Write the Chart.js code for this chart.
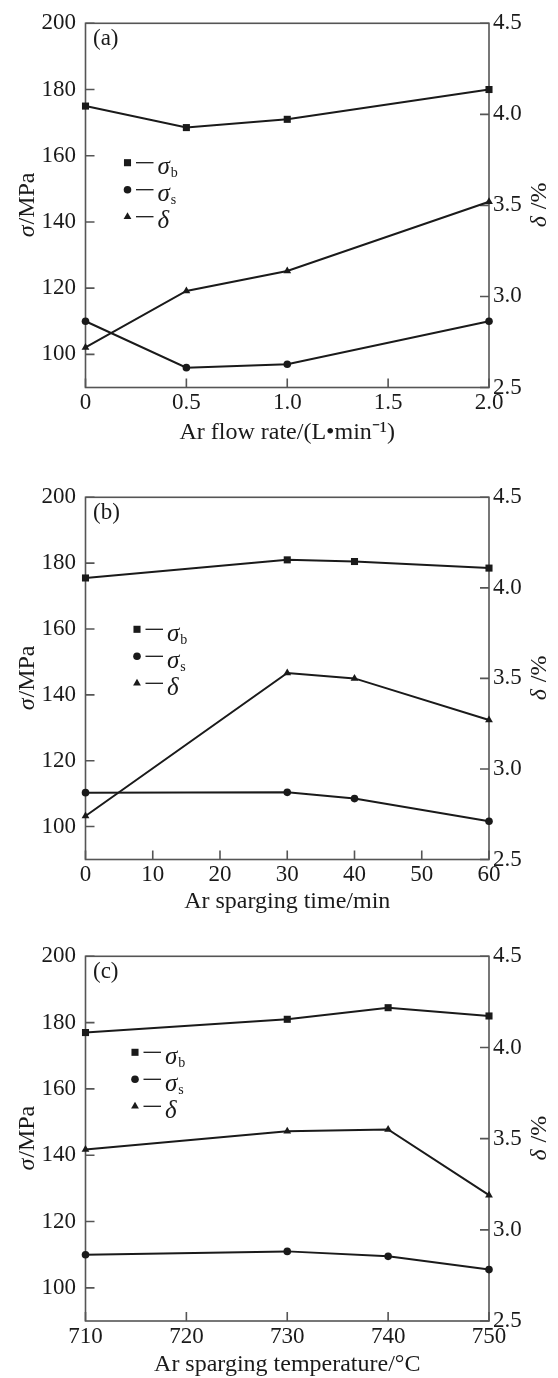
<!DOCTYPE html>
<html>
<head>
<meta charset="utf-8">
<script src="https://cdn.jsdelivr.net/npm/chart.js@4.4.1/dist/chart.umd.min.js"></script>
<style>
  html, body { margin: 0; padding: 0; background: #fff; }
  body { width: 558px; height: 1378px; position: relative; overflow: hidden; }
  .panel { position: absolute; left: 0; width: 558px; height: 460px; }
</style>
</head>
<body>
<div class="panel" style="top:0"><canvas id="chartA" width="558" height="460"></canvas></div>
<div class="panel" style="top:474px"><canvas id="chartB" width="558" height="460"></canvas></div>
<div class="panel" style="top:933px"><canvas id="chartC" width="558" height="460"></canvas></div>
<script>
const FONT = '"Liberation Serif", "Times New Roman", serif';
const INK = "#1a1a1a";
const FRAME = "#555";
const TICK = 9;

// shared y axes
const stressTicks = [100, 120, 140, 160, 180, 200];
const elongTicks = [2.5, 3.0, 3.5, 4.0, 4.5];

// (a) Ar flow rate
const flowRate = [0, 0.5, 1.0, 2.0];
const flowRateTicks = [0, 0.5, 1.0, 1.5, 2.0];
const flowRateLabels = ["0", "0.5", "1.0", "1.5", "2.0"];
const sigmaB_a = [175, 168.5, 171, 180];
const sigmaS_a = [110, 96, 97, 110];
const delta_a = [2.72, 3.03, 3.14, 3.52];

// (b) Ar sparging time
const spargeTime = [0, 30, 40, 60];
const spargeTimeTicks = [0, 10, 20, 30, 40, 50, 60];
const sigmaB_b = [175.5, 181, 180.5, 178.5];
const sigmaS_b = [110.3, 110.4, 108.5, 101.6];
const delta_b = [2.74, 3.53, 3.5, 3.27];

// (c) Ar sparging temperature
const spargeTemp = [710, 730, 740, 750];
const spargeTempTicks = [710, 720, 730, 740, 750];
const sigmaB_c = [177, 181, 184.5, 182];
const sigmaS_c = [110, 111, 109.5, 105.5];
const delta_c = [3.44, 3.54, 3.55, 3.19];

const legendItems = [
  { style: "rect", radius: 5, sym: "σ", sub: "b" },
  { style: "circle", radius: 3.8, sym: "σ", sub: "s" },
  { style: "triangle", radius: 4.5, sym: "δ", sub: "" },
];

Chart.defaults.font.family = FONT;
Chart.defaults.color = INK;

function italicPlus(ctx, italicPart, rest, size) {
  ctx.font = `italic ${size}px ${FONT}`;
  const w1 = ctx.measureText(italicPart).width;
  ctx.font = `${size}px ${FONT}`;
  const w2 = ctx.measureText(rest).width;
  let x = -(w1 + w2) / 2;
  ctx.textAlign = "left";
  ctx.textBaseline = "middle";
  ctx.font = `italic ${size}px ${FONT}`;
  ctx.fillText(italicPart, x, 0);
  ctx.font = `${size}px ${FONT}`;
  ctx.fillText(rest, x + w1 + 1, 0);
}

const panelDecor = {
  id: "panelDecor",
  beforeDatasetsDraw(chart) {
    const { ctx, chartArea: a, scales } = chart;
    ctx.save();
    ctx.strokeStyle = FRAME;
    ctx.lineWidth = 1.6;
    ctx.strokeRect(a.left, a.top, a.right - a.left, a.bottom - a.top);
    ctx.beginPath();
    scales.x.ticks.forEach((t) => {
      const px = scales.x.getPixelForValue(t.value);
      ctx.moveTo(px, a.bottom);
      ctx.lineTo(px, a.bottom - TICK);
    });
    scales.y.ticks.forEach((t) => {
      const py = scales.y.getPixelForValue(t.value);
      ctx.moveTo(a.left, py);
      ctx.lineTo(a.left + TICK, py);
    });
    scales.y1.ticks.forEach((t) => {
      const py = scales.y1.getPixelForValue(t.value);
      ctx.moveTo(a.right, py);
      ctx.lineTo(a.right - TICK, py);
    });
    ctx.stroke();
    ctx.restore();
  },
  afterDraw(chart, args, opts) {
    const { ctx, chartArea: a } = chart;
    const midY = (a.top + a.bottom) / 2;
    ctx.save();
    ctx.fillStyle = INK;

    // panel tag
    ctx.font = `23px ${FONT}`;
    ctx.textAlign = "left";
    ctx.textBaseline = "middle";
    ctx.fillText(opts.tag, a.left + 7.5, a.top + 16);

    // y titles
    ctx.save();
    ctx.translate(28, midY);
    ctx.rotate(-Math.PI / 2);
    italicPlus(ctx, "σ", "/MPa", 24);
    ctx.restore();
    ctx.save();
    ctx.translate(540, midY);
    ctx.rotate(-Math.PI / 2);
    italicPlus(ctx, "δ", " /%", 24);
    ctx.restore();

    // legend
    legendItems.forEach((item, i) => {
      const x = opts.legendX;
      const cy = opts.legendY + i * 27;
      ctx.fillStyle = INK;
      ctx.strokeStyle = INK;
      Chart.helpers.drawPoint(ctx, { pointStyle: item.style, radius: item.radius, rotation: 0, borderWidth: 0 }, x, cy);
      ctx.lineWidth = 1.3;
      ctx.beginPath();
      ctx.moveTo(x + 8.5, cy);
      ctx.lineTo(x + 26, cy);
      ctx.stroke();
      ctx.textAlign = "left";
      ctx.textBaseline = "alphabetic";
      ctx.font = `italic 25px ${FONT}`;
      ctx.fillText(item.sym, x + 30, cy + 11.5);
      const w = ctx.measureText(item.sym).width;
      if (item.sub) {
        ctx.font = `14px ${FONT}`;
        ctx.fillText(item.sub, x + 31 + w, cy + 14.5);
      }
    });
    ctx.restore();
  },
};

function drawPanel(canvasId, p) {
  const H = 460;
  const line = (label, data, axis, style, radius) => ({
    label,
    data: p.x.map((x, i) => ({ x, y: data[i] })),
    yAxisID: axis,
    borderColor: INK,
    borderWidth: 2,
    pointStyle: style,
    pointRadius: radius,
    pointBackgroundColor: INK,
    pointBorderWidth: 0,
    tension: 0,
    clip: false,
  });
  const setTicks = (list) => (scale) => {
    scale.ticks = list.map((v) => ({ value: v }));
  };

  return new Chart(document.getElementById(canvasId), {
    type: "line",
    data: {
      datasets: [
        line("σb", p.sb, "y", "rect", 5),
        line("σs", p.ss, "y", "circle", 3.8),
        line("δ", p.d, "y1", "triangle", 4.5),
      ],
    },
    options: {
      responsive: false,
      animation: false,
      events: [],
      layout: { padding: { top: p.plotTop, bottom: 0, left: 0, right: 0 } },
      plugins: {
        legend: { display: false },
        tooltip: { enabled: false },
        panelDecor: { tag: p.tag, legendX: p.legendX, legendY: p.legendY },
      },
      scales: {
        x: {
          type: "linear",
          min: p.xTicks[0],
          max: p.xTicks[p.xTicks.length - 1],
          afterBuildTicks: setTicks(p.xTicks),
          afterFit: (s) => {
            s.height = H - p.plotBottom;
          },
          grid: { display: false, drawTicks: false },
          border: { display: false },
          ticks: {
            autoSkip: false,
            maxRotation: 0,
            padding: 2,
            color: INK,
            font: { size: 23 },
            callback: (v) => p.xLabels[p.xTicks.indexOf(v)],
          },
          title: {
            display: true,
            text: p.xTitle,
            color: INK,
            font: { size: 24 },
            padding: { top: 0, bottom: H - p.titleY - 14.4 },
          },
        },
        y: {
          position: "left",
          min: 90,
          max: 200,
          afterBuildTicks: setTicks(stressTicks),
          afterFit: (s) => {
            s.width = 85.5;
          },
          grid: { display: false, drawTicks: false },
          border: { display: false },
          ticks: { padding: 9.5, color: INK, font: { size: 23 } },
        },
        y1: {
          position: "right",
          min: 2.5,
          max: 4.5,
          afterBuildTicks: setTicks(elongTicks),
          afterFit: (s) => {
            s.width = 69;
          },
          grid: { display: false, drawTicks: false },
          border: { display: false },
          ticks: {
            padding: 4,
            color: INK,
            font: { size: 23 },
            callback: (v) => v.toFixed(1),
          },
        },
      },
    },
    plugins: [panelDecor],
  });
}

drawPanel("chartA", {
  tag: "(a)",
  x: flowRate,
  xTicks: flowRateTicks,
  xLabels: flowRateLabels,
  xTitle: "Ar flow rate/(L•min⁻¹)",
  sb: sigmaB_a,
  ss: sigmaS_a,
  d: delta_a,
  plotTop: 17,
  plotBottom: 387.5,
  titleY: 433,
  legendX: 127.5,
  legendY: 162.7,
});

drawPanel("chartB", {
  tag: "(b)",
  x: spargeTime,
  xTicks: spargeTimeTicks,
  xLabels: spargeTimeTicks.map(String),
  xTitle: "Ar sparging time/min",
  sb: sigmaB_b,
  ss: sigmaS_b,
  d: delta_b,
  plotTop: 17,
  plotBottom: 385.5,
  titleY: 427.7,
  legendX: 137,
  legendY: 155.3,
});

drawPanel("chartC", {
  tag: "(c)",
  x: spargeTemp,
  xTicks: spargeTempTicks,
  xLabels: spargeTempTicks.map(String),
  xTitle: "Ar sparging temperature/°C",
  sb: sigmaB_c,
  ss: sigmaS_c,
  d: delta_c,
  plotTop: 17,
  plotBottom: 388,
  titleY: 432,
  legendX: 135,
  legendY: 119.3,
});
</script>
</body>
</html>
